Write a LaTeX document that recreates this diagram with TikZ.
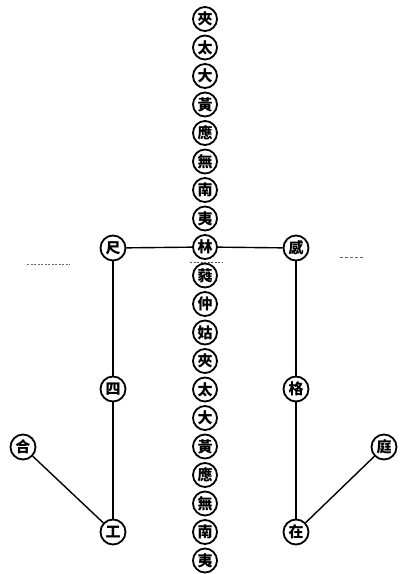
\documentclass[tikz,border=0pt]{standalone}
\usepackage{fontspec}
\newfontfamily\cjk{Noto Sans CJK TC}
\begin{document}
\begin{tikzpicture}[x=1pt,y=-1pt,
  pitch/.style={circle,draw=black,line width=1.8pt,minimum size=24pt,inner sep=0pt,font=\cjk\bfseries\fontsize{15}{15}\selectfont},
  side/.style={pitch,minimum size=25pt},
  link/.style={line width=1.4pt}]
\useasboundingbox (0,0) rectangle (408,574);
\fill[white] (0,0) rectangle (408,574);
\foreach \c [count=\i from 0] in {夾,太,大,黃,應,無,南,夷,林,蕤,仲,姑,夾,太,大,黃,應,無,南,夷}{
  \node[pitch] (p\i) at (205,{19+28.5*\i}) {\c};
}
\node[side] (chi) at (113,248) {尺};
\node[side] (gan) at (296,248) {感};
\node[side] (si) at (113,389) {四};
\node[side] (ge) at (296,389) {格};
\node[side] (he) at (23,447) {合};
\node[side] (ting) at (384,447) {庭};
\node[side] (gong) at (113,532) {工};
\node[side] (zai) at (296,532) {在};
\draw[link] (chi) -- (p8) -- (gan);
\draw[link] (chi) -- (si) -- (gong);
\draw[link] (gan) -- (ge) -- (zai);
\draw[link] (he) -- (gong);
\draw[link] (ting) -- (zai);
\draw[dash pattern=on 2pt off 1.5pt,line width=0.7pt,black!70] (190,262) -- (223,262);
\draw[dash pattern=on 2pt off 1.5pt,line width=0.7pt,black!60] (27,264) -- (70,264);
\draw[dash pattern=on 3pt off 2pt,line width=0.7pt,black!60] (340,257) -- (363,257);
\end{tikzpicture}
\end{document}
